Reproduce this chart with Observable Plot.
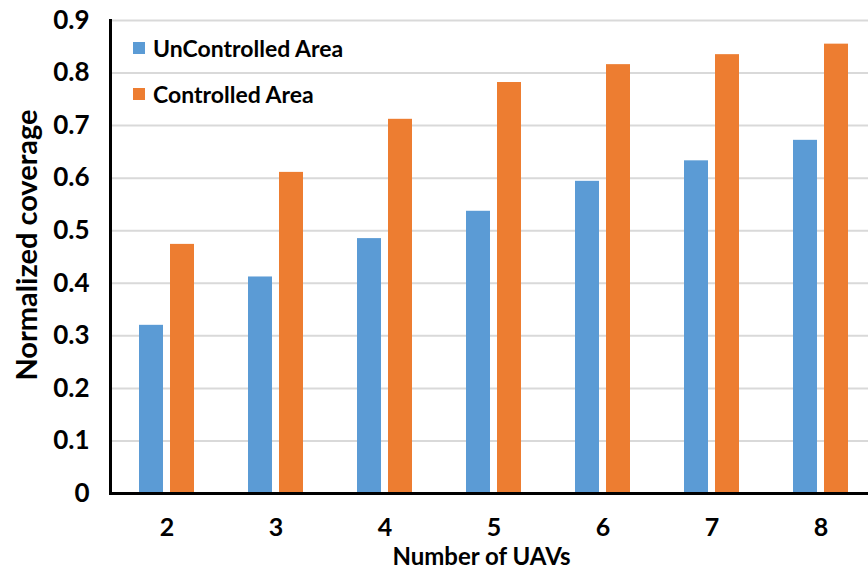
<!DOCTYPE html>
<html>
<head>
<meta charset="utf-8">
<script src="https://cdn.jsdelivr.net/npm/d3@7"></script>
<script src="https://cdn.jsdelivr.net/npm/@observablehq/plot@0.6"></script>
<style>
  body { margin: 0; background: #fff; }
  #wrap { position: relative; width: 868px; height: 570px; font-family: Lato, "Open Sans", sans-serif; }
  .legend { position: absolute; left: 133px; font-size: 23px; font-weight: 700; color: #000; }
  .legend .row { display: flex; align-items: center; height: 24px; }
  .legend .sw { width: 12px; height: 12px; margin-right: 8px; }
</style>
</head>
<body>
<div id="wrap"></div>
<script>
const uavs = ["2", "3", "4", "5", "6", "7", "8"];
const seriesNames = ["UnControlled Area", "Controlled Area"];
const uncontrolled = [0.320, 0.412, 0.485, 0.537, 0.594, 0.633, 0.672];
const controlled = [0.474, 0.611, 0.712, 0.782, 0.816, 0.835, 0.855];
const yTicks = [0, 0.1, 0.2, 0.3, 0.4, 0.5, 0.6, 0.7, 0.8, 0.9];
const colors = ["#5B9BD5", "#ED7D31"];

const rowsU = uavs.map((u, i) => ({uav: u, value: uncontrolled[i], series: seriesNames[0]}));
const rowsC = uavs.map((u, i) => ({uav: u, value: controlled[i], series: seriesNames[1]}));

const chart = Plot.plot({
  width: 868,
  height: 570,
  marginLeft: 110,
  marginRight: 0,
  marginTop: 20,
  marginBottom: 77,
  style: {fontFamily: "Lato, 'Open Sans', sans-serif", background: "#fff", color: "#000"},
  x: {domain: uavs, range: [110, 877], paddingInner: 0.5, paddingOuter: 0.25},
  y: {domain: [0, 0.9]},
  color: {domain: seriesNames, range: colors},
  marks: [
    Plot.ruleY(yTicks.filter(d => d > 0), {stroke: "#D9D9D9", strokeWidth: 2}),
    Plot.barY(rowsU, {x: "uav", y: "value", fill: "series", insetRight: 31}),
    Plot.barY(rowsC, {x: "uav", y: "value", fill: "series", insetLeft: 31}),
    Plot.ruleY([0], {stroke: "#000", strokeWidth: 3}),
    Plot.frame({anchor: "left", stroke: "#000", strokeWidth: 3}),
    Plot.axisY({ticks: yTicks, tickSize: 0, tickPadding: 21, label: null,
      tickFormat: d => d === 0 ? "0" : d.toFixed(1), fontSize: 26, fontWeight: 700}),
    Plot.axisX({tickSize: 0, tickPadding: 25, label: null, fontSize: 25, fontWeight: 700}),
    Plot.text(["Normalized coverage"], {frameAnchor: "left", rotate: -90, dx: -83, dy: -12,
      textAnchor: "middle", lineAnchor: "middle", fontSize: 29, fontWeight: 700}),
    Plot.text(["Number of UAVs"], {frameAnchor: "bottom", dy: 64, dx: -8,
      textAnchor: "middle", lineAnchor: "middle", fontSize: 24, fontWeight: 700})
  ]
});

const wrap = document.getElementById("wrap");
wrap.appendChild(chart);
const legend = document.createElement("div");
legend.className = "legend";
legend.style.top = "36px";
seriesNames.forEach((name, i) => {
  const row = document.createElement("div");
  row.className = "row";
  row.style.marginBottom = i === 0 ? "22px" : "0";
  const sw = document.createElement("span");
  sw.className = "sw";
  sw.style.background = colors[i];
  const t = document.createElement("span");
  t.textContent = name;
  row.appendChild(sw);
  row.appendChild(t);
  legend.appendChild(row);
});
wrap.appendChild(legend);
</script>
</body>
</html>
